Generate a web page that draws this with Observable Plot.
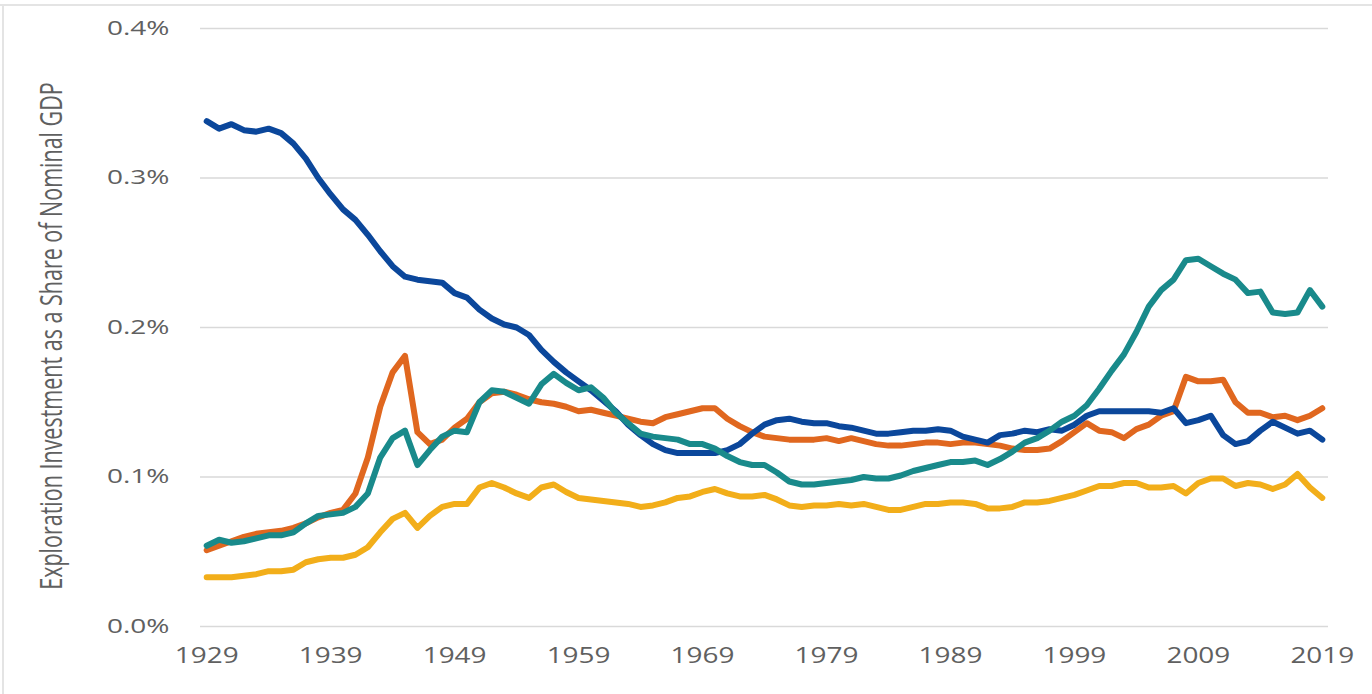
<!DOCTYPE html>
<html>
<head>
<meta charset="utf-8">
<script src="https://cdn.jsdelivr.net/npm/d3@7"></script>
<script src="https://cdn.jsdelivr.net/npm/@observablehq/plot@0.6"></script>
<style>
  html, body { margin: 0; padding: 0; background: #fff; }
  #chart { position: relative; width: 1372px; height: 694px; overflow: hidden; background: #fff; }
  .frame-top { position: absolute; left: 0; top: 4px; width: 1372px; height: 2px; background: #e4e4e4; }
  .frame-left { position: absolute; left: 2px; top: 4px; width: 2px; height: 690px; background: #e4e4e4; }
  #chart svg { position: absolute; left: 0; top: 0; }
</style>
</head>
<body>
<div id="chart"><div class="frame-top"></div><div class="frame-left"></div></div>
<script>
// ---- data (percent of nominal GDP), one value per year 1929..2019 ----
const firstYear = 1929;
const lastYear = 2019;
const xTickYears = [1929, 1939, 1949, 1959, 1969, 1979, 1989, 1999, 2009, 2019];
const yTickValues = [0, 0.1, 0.2, 0.3, 0.4];
const yAxisTitle = "Exploration Investment as a Share of Nominal GDP";

const seriesNames = ["Series 1", "Series 2", "Series 3", "Series 4"];
const seriesColors = ["#F2AE1A", "#E0671F", "#0B479B", "#198A8B"];

// Series 1 (yellow)
const yellowValues = [
  0.033,0.033,0.033,0.034,0.035,0.037,0.037,0.038,0.043,0.045,
  0.046,0.046,0.048,0.053,0.063,0.072,0.076,0.066,0.074,0.080,
  0.082,0.082,0.093,0.096,0.093,0.089,0.086,0.093,0.095,0.090,
  0.086,0.085,0.084,0.083,0.082,0.080,0.081,0.083,0.086,0.087,
  0.090,0.092,0.089,0.087,0.087,0.088,0.085,0.081,0.080,0.081,
  0.081,0.082,0.081,0.082,0.080,0.078,0.078,0.080,0.082,0.082,
  0.083,0.083,0.082,0.079,0.079,0.080,0.083,0.083,0.084,0.086,
  0.088,0.091,0.094,0.094,0.096,0.096,0.093,0.093,0.094,0.089,
  0.096,0.099,0.099,0.094,0.096,0.095,0.092,0.095,0.102,0.093,
  0.086
];
// Series 2 (orange)
const orangeValues = [
  0.051,0.054,0.057,0.060,0.062,0.063,0.064,0.066,0.069,0.073,
  0.076,0.078,0.089,0.113,0.147,0.170,0.181,0.130,0.122,0.125,
  0.133,0.139,0.150,0.156,0.157,0.155,0.152,0.150,0.149,0.147,
  0.144,0.145,0.143,0.141,0.139,0.137,0.136,0.140,0.142,0.144,
  0.146,0.146,0.139,0.134,0.130,0.127,0.126,0.125,0.125,0.125,
  0.126,0.124,0.126,0.124,0.122,0.121,0.121,0.122,0.123,0.123,
  0.122,0.123,0.123,0.122,0.121,0.119,0.118,0.118,0.119,0.124,
  0.130,0.136,0.131,0.130,0.126,0.132,0.135,0.141,0.144,0.167,
  0.164,0.164,0.165,0.150,0.143,0.143,0.140,0.141,0.138,0.141,
  0.146
];
// Series 3 (dark blue)
const blueValues = [
  0.338,0.333,0.336,0.332,0.331,0.333,0.330,0.323,0.313,0.300,
  0.289,0.279,0.272,0.262,0.251,0.241,0.234,0.232,0.231,0.230,
  0.223,0.220,0.212,0.206,0.202,0.200,0.195,0.185,0.177,0.170,
  0.164,0.158,0.151,0.144,0.135,0.128,0.122,0.118,0.116,0.116,
  0.116,0.116,0.118,0.122,0.129,0.135,0.138,0.139,0.137,0.136,
  0.136,0.134,0.133,0.131,0.129,0.129,0.130,0.131,0.131,0.132,
  0.131,0.127,0.125,0.123,0.128,0.129,0.131,0.130,0.132,0.131,
  0.135,0.141,0.144,0.144,0.144,0.144,0.144,0.143,0.146,0.136,
  0.138,0.141,0.128,0.122,0.124,0.131,0.137,0.133,0.129,0.131,
  0.125
];
// Series 4 (teal)
const tealValues = [
  0.054,0.058,0.056,0.057,0.059,0.061,0.061,0.063,0.069,0.074,
  0.075,0.076,0.080,0.089,0.113,0.126,0.131,0.108,0.118,0.127,
  0.131,0.130,0.150,0.158,0.157,0.153,0.149,0.162,0.169,0.163,
  0.158,0.160,0.153,0.143,0.136,0.129,0.127,0.126,0.125,0.122,
  0.122,0.119,0.114,0.110,0.108,0.108,0.103,0.097,0.095,0.095,
  0.096,0.097,0.098,0.100,0.099,0.099,0.101,0.104,0.106,0.108,
  0.110,0.110,0.111,0.108,0.112,0.117,0.123,0.126,0.131,0.137,
  0.141,0.148,0.159,0.171,0.182,0.197,0.214,0.225,0.232,0.245,
  0.246,0.241,0.236,0.232,0.223,0.224,0.210,0.209,0.210,0.225,
  0.214
];

const years = d3.range(firstYear, lastYear + 1);
const seriesValues = [yellowValues, orangeValues, blueValues, tealValues];
const rows = seriesNames.flatMap((name, i) =>
  years.map((year, j) => ({ series: name, year, value: seriesValues[i][j] }))
);

const chart = Plot.plot({
  width: 1372,
  height: 694,
  marginLeft: 200,
  marginRight: 44,
  marginTop: 28,
  marginBottom: 68,
  style: { fontFamily: "'Open Sans', sans-serif", fontSize: "20px", color: "#606060", background: "transparent" },
  x: { domain: [firstYear - 0.5, lastYear + 0.5], ticks: xTickYears, tickFormat: d => String(d), tickSize: 0, tickPadding: 22, label: null },
  y: { domain: [0, 0.4], ticks: yTickValues, tickFormat: d => d.toFixed(1) + "%", tickSize: 0, tickPadding: 31, label: null },
  color: { domain: seriesNames, range: seriesColors },
  marks: [
    Plot.gridY(yTickValues, { stroke: "#d9d9d9", strokeOpacity: 1, strokeWidth: 1.6 }),
    Plot.line(rows, { x: "year", y: "value", z: "series", stroke: "series", strokeWidth: 6, strokeLinejoin: "round", strokeLinecap: "round" })
  ]
});

document.getElementById("chart").appendChild(chart);

// horizontal stretch of tick labels to match the reference
function stretch(selection, k) {
  selection.each(function () {
    const x = +this.getAttribute("x") || 0, y = +this.getAttribute("y") || 0;
    const t = this.getAttribute("transform") || "";
    this.setAttribute("transform", `${t} translate(${x},${y}) scale(${k},1) translate(${-x},${-y})`);
  });
}
const svg = d3.select(chart);
svg.selectAll('g[aria-label="x-axis tick label"] text').style("font-size", "21px");
stretch(svg.selectAll('g[aria-label="x-axis tick label"] text'), 1.33);
stretch(svg.selectAll('g[aria-label="y-axis tick label"] text'), 1.4);

// y axis title (rotated, stretched like the reference)
svg.append("text")
  .attr("transform", "translate(50,336) rotate(-90) scale(1,1.4)")
  .attr("text-anchor", "middle")
  .attr("dominant-baseline", "central")
  .attr("fill", "#606060")
  .style("font-family", "'Open Sans', sans-serif")
  .style("font-size", "21.5px")
  .text(yAxisTitle);
</script>
</body>
</html>
